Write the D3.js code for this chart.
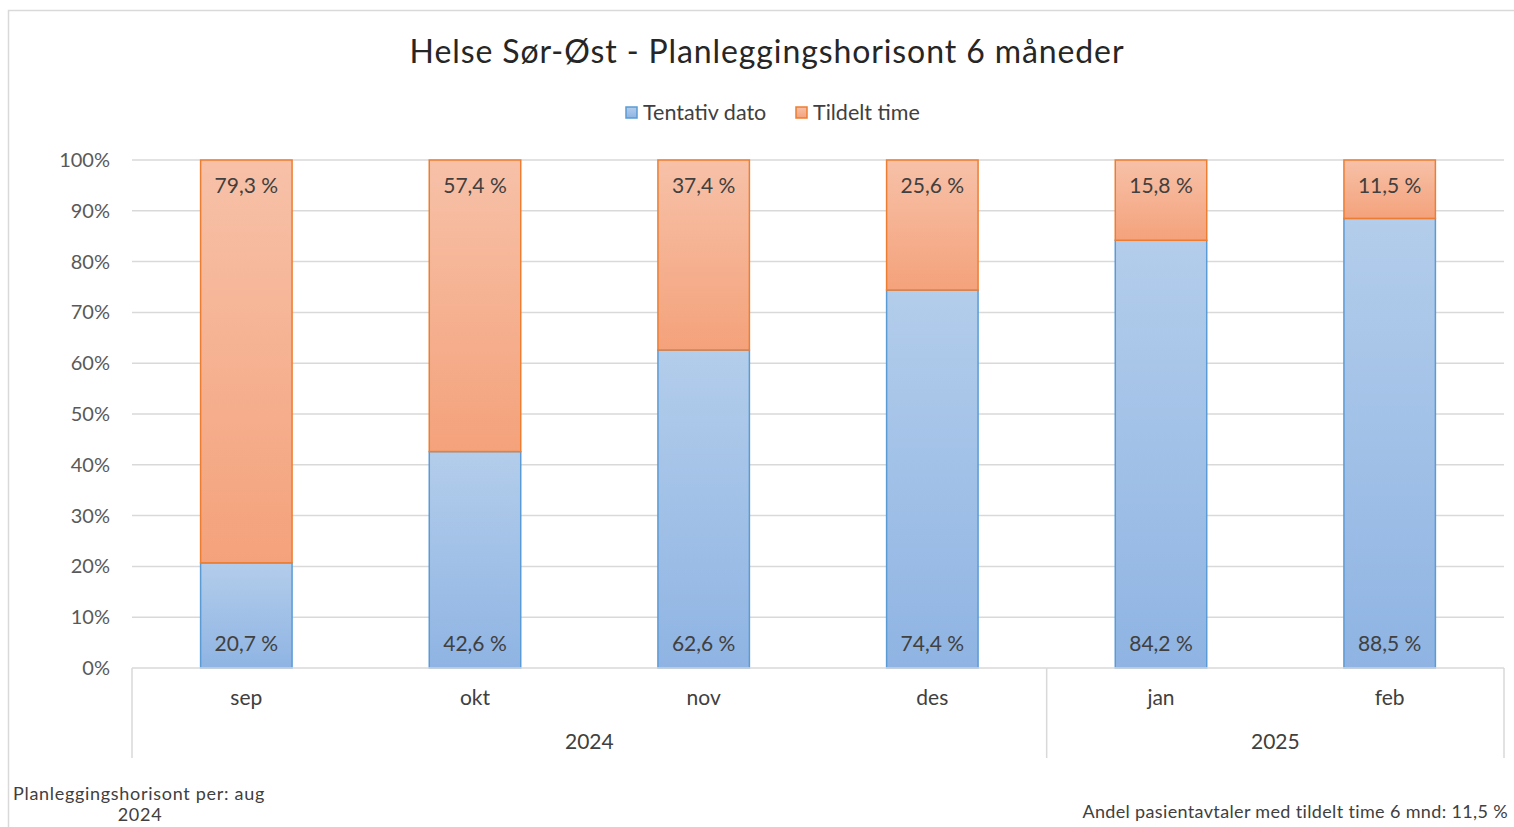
<!DOCTYPE html>
<html>
<head>
<meta charset="utf-8">
<script src="https://cdn.jsdelivr.net/npm/d3@7"></script>
<style>
  body { margin: 0; background: #fff; }
  svg { display: block; font-family: Lato, "Open Sans", sans-serif; }
</style>
</head>
<body>
<svg id="chart" width="1514" height="827"></svg>
<script>
(() => {
    const months = ["sep", "okt", "nov", "des", "jan", "feb"];
    const years = [
        { year: "2024", from: "sep", to: "des" },
        { year: "2025", from: "jan", to: "feb" }
    ];
    const tentativ = [20.7, 42.6, 62.6, 74.4, 84.2, 88.5];
    const tildelt = [79.3, 57.4, 37.4, 25.6, 15.8, 11.5];
    const yTicks = [0, 10, 20, 30, 40, 50, 60, 70, 80, 90, 100];
    const seriesNames = ["Tentativ dato", "Tildelt time"];

    const svg = d3.select("#chart");
    const margin = { top: 160, right: 10, bottom: 159, left: 132 };
    const width = 1504 - margin.left;
    const height = 668 - margin.top;

    const fmt = v => v.toFixed(1).replace(".", ",") + " %";

    // outer chart border (right side runs off the picture)
    svg.append("rect")
        .attr("x", 8.5).attr("y", 10.5)
        .attr("width", 1540).attr("height", 840)
        .attr("fill", "none").attr("stroke", "#d9d9d9").attr("stroke-width", 1.5);

    // gradients
    const defs = svg.append("defs");
    const grads = [
        { id: "gBlue", top: "#b3cdeb", bottom: "#8fb4e3" },
        { id: "gOrange", top: "#f7c1a8", bottom: "#f4a27b" }
    ];
    grads.forEach(g => {
        const lg = defs.append("linearGradient").attr("id", g.id)
            .attr("x1", "0%").attr("x2", "0%").attr("y1", "0%").attr("y2", "100%");
        lg.append("stop").attr("offset", "0%").attr("stop-color", g.top);
        lg.append("stop").attr("offset", "100%").attr("stop-color", g.bottom);
    });

    const g = svg.append("g").attr("transform", `translate(${margin.left},${margin.top})`);

    const x = d3.scaleBand().domain(months).range([0, width]).paddingInner(0.6).paddingOuter(0.3);
    const y = d3.scaleLinear().domain([0, 100]).range([height, 0]);

    // gridlines
    g.append("g")
        .selectAll("line")
        .data(yTicks.slice(1))
        .join("line")
        .attr("x1", 0).attr("x2", width)
        .attr("y1", d => y(d)).attr("y2", d => y(d))
        .attr("stroke", "#d9d9d9").attr("stroke-width", 1.5);

    // y axis labels
    const yAxis = g.append("g")
        .call(d3.axisLeft(y).tickValues(yTicks).tickFormat(d => d + "%").tickSize(0).tickPadding(22));
    yAxis.select(".domain").remove();
    yAxis.selectAll("text")
        .attr("font-size", 20).attr("fill", "#595959")
        .attr("font-family", "Lato, 'Open Sans', sans-serif");

    // stacked data
    const rows = months.map((m, i) => ({ month: m, tentativ: tentativ[i], tildelt: tildelt[i] }));
    const stack = d3.stack().keys(["tentativ", "tildelt"])(rows);
    const fills = ["url(#gBlue)", "url(#gOrange)"];
    const strokes = ["#5b9bd5", "#ed7d31"];

    stack.forEach((layer, li) => {
        g.append("g")
            .selectAll("rect")
            .data(layer)
            .join("rect")
            .attr("x", d => x(d.data.month))
            .attr("width", x.bandwidth())
            .attr("y", d => y(d[1]))
            .attr("height", d => y(d[0]) - y(d[1]))
            .attr("fill", fills[li])
            .attr("stroke", strokes[li])
            .attr("stroke-width", 1.5);
    });

    // data labels: blue inside base, orange inside end
    g.append("g")
        .selectAll("text")
        .data(stack[0])
        .join("text")
        .attr("x", d => x(d.data.month) + x.bandwidth() / 2)
        .attr("y", d => y(d[0]) - 17)
        .attr("text-anchor", "middle")
        .attr("font-size", 21).attr("fill", "#404040")
        .text(d => fmt(d.data.tentativ));

    g.append("g")
        .selectAll("text")
        .data(stack[1])
        .join("text")
        .attr("x", d => x(d.data.month) + x.bandwidth() / 2)
        .attr("y", d => y(d[1]) + 33)
        .attr("text-anchor", "middle")
        .attr("font-size", 21).attr("fill", "#404040")
        .text(d => fmt(d.data.tildelt));

    // x axis: baseline, month labels, year groups
    const xAxis = g.append("g").attr("transform", `translate(0,${height})`);
    xAxis.append("line")
        .attr("x1", 0).attr("x2", width)
        .attr("stroke", "#d9d9d9").attr("stroke-width", 1.5);

    xAxis.selectAll(".month")
        .data(months)
        .join("text")
        .attr("class", "month")
        .attr("x", d => x(d) + x.bandwidth() / 2)
        .attr("y", 37)
        .attr("text-anchor", "middle")
        .attr("font-size", 21).attr("fill", "#404040")
        .text(d => d);

    const step = x.step();
    const yearEdges = [0].concat(years.map(yr => x(yr.to) - x.bandwidth() * 0.75 + step));
    xAxis.selectAll(".sep")
        .data(yearEdges)
        .join("line")
        .attr("class", "sep")
        .attr("x1", d => d).attr("x2", d => d)
        .attr("y1", 0).attr("y2", 90)
        .attr("stroke", "#d9d9d9").attr("stroke-width", 1.5);

    xAxis.selectAll(".year")
        .data(years)
        .join("text")
        .attr("class", "year")
        .attr("x", (d, i) => (yearEdges[i] + yearEdges[i + 1]) / 2)
        .attr("y", 81)
        .attr("text-anchor", "middle")
        .attr("font-size", 21).attr("fill", "#404040")
        .text(d => d.year);

    // title
    svg.append("text")
        .attr("x", 767).attr("y", 63)
        .attr("text-anchor", "middle")
        .attr("font-size", 32).attr("fill", "#262626")
        .attr("letter-spacing", 0.9)
        .text("Helse Sør-Øst - Planleggingshorisont 6 måneder");

    // legend
    const legend = svg.append("g");
    const legendX = [626, 796];
    seriesNames.forEach((name, i) => {
        legend.append("rect")
            .attr("x", legendX[i]).attr("y", 107)
            .attr("width", 11).attr("height", 11)
            .attr("fill", fills[i]).attr("stroke", strokes[i]).attr("stroke-width", 1.5);
        legend.append("text")
            .attr("x", legendX[i] + 17).attr("y", 120)
            .attr("font-size", 21.5).attr("fill", "#404040")
            .text(name);
    });

    // footnotes
    svg.append("text")
        .attr("x", 13).attr("y", 800)
        .attr("font-size", 18).attr("fill", "#404040")
        .attr("letter-spacing", 0.7)
        .text("Planleggingshorisont per: aug");
    svg.append("text")
        .attr("x", 140).attr("y", 821)
        .attr("text-anchor", "middle")
        .attr("font-size", 18).attr("fill", "#404040")
        .attr("letter-spacing", 0.7)
        .text("2024");
    svg.append("text")
        .attr("x", 1508).attr("y", 818)
        .attr("text-anchor", "end")
        .attr("font-size", 18).attr("fill", "#404040")
        .attr("letter-spacing", 0.35)
        .text("Andel pasientavtaler med tildelt time 6 mnd: 11,5 %");
})();
</script>
</body>
</html>
